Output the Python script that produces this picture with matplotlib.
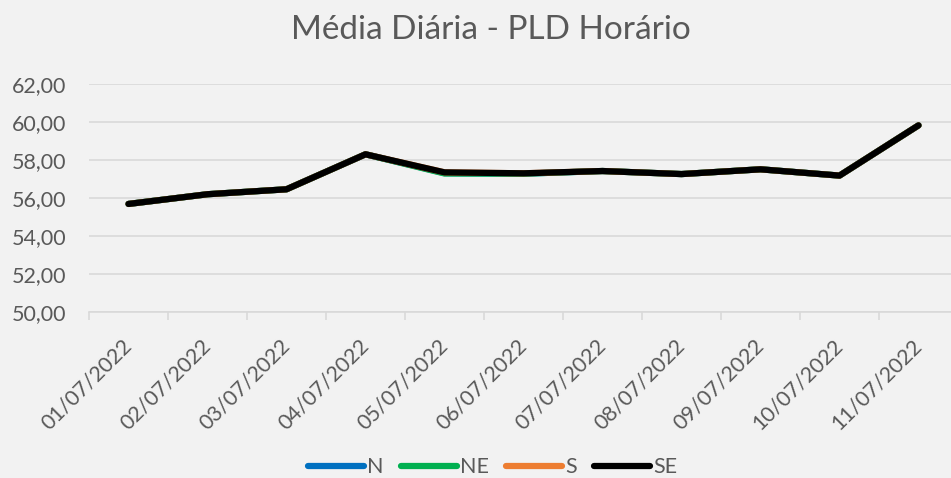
import matplotlib.pyplot as plt
import matplotlib.transforms as mtransforms
import numpy as np

# Data
dates = ['01/07/2022', '02/07/2022', '03/07/2022', '04/07/2022', '05/07/2022', '06/07/2022',
         '07/07/2022', '08/07/2022', '09/07/2022', '10/07/2022', '11/07/2022']
pld_n = [55.68, 56.19, 56.45, 58.29, 57.30, 57.27, 57.41, 57.25, 57.50, 57.17, 59.81]
pld_ne = [55.68, 56.19, 56.45, 58.29, 57.28, 57.27, 57.41, 57.25, 57.50, 57.17, 59.81]
pld_s = [55.68, 56.19, 56.45, 58.29, 57.34, 57.29, 57.41, 57.25, 57.50, 57.17, 59.81]
pld_se = [55.68, 56.19, 56.45, 58.29, 57.34, 57.29, 57.41, 57.25, 57.50, 57.17, 59.81]
yticks = [50, 52, 54, 56, 58, 60, 62]

plt.rcParams['font.family'] = ['Lato', 'DejaVu Sans']
txt = '#595959'
grid = '#d9d9d9'
bg = '#f2f2f2'
fs = 15.5

fig = plt.figure(figsize=(9.51, 4.78), dpi=100, facecolor=bg)
ax = fig.add_axes([89 / 951, 166 / 478, 869 / 951, 228.3 / 478], facecolor=bg)

x = np.arange(len(dates))
ax.plot(x, pld_n, color='#0070c0', lw=4.5, label='N', solid_capstyle='round')
ax.plot(x, pld_ne, color='#00b050', lw=4.5, label='NE', solid_capstyle='round')
ax.plot(x, pld_s, color='#ed7d31', lw=4.5, label='S', solid_capstyle='round')
ax.plot(x, pld_se, color='black', lw=4.5, label='SE', solid_capstyle='round')

ax.set_xlim(-0.5, len(dates) - 0.5)
ax.set_ylim(50, 62)
ax.set_yticks(yticks)
ax.set_yticklabels([f'{v:.2f}'.replace('.', ',') for v in yticks], color=txt, fontsize=fs)
ax.yaxis.grid(True, color=grid, lw=1.2)
ax.set_axisbelow(True)
ax.tick_params(axis='y', length=0, pad=16.5)

ax.set_xticks(x)
ax.set_xticklabels(dates, rotation=45, ha='right', rotation_mode='anchor', color=txt, fontsize=fs)
ax.set_xticks(np.arange(-0.5, len(dates), 1), minor=True)
ax.tick_params(axis='x', which='major', length=0, pad=17)
ax.tick_params(axis='x', which='minor', length=6, color=grid, width=1.2)
shift = mtransforms.ScaledTranslation(-7 / 100, 0, fig.dpi_scale_trans)
for lbl in ax.get_xticklabels():
    lbl.set_transform(lbl.get_transform() + shift)

for s in ['top', 'right', 'left']:
    ax.spines[s].set_visible(False)
ax.spines['bottom'].set_color(grid)
ax.spines['bottom'].set_linewidth(1.2)

fig.text(0.516, 0.937, 'Média Diária - PLD Horário', ha='center', va='center', fontsize=24, color=txt)

fig.legend(loc='center', bbox_to_anchor=(0.518, 0.022), ncol=4, frameon=False, fontsize=fs,
           handlelength=2.6, handletextpad=0.15, columnspacing=0.8, labelcolor=txt)

fig.savefig('out.png', dpi=100, facecolor=bg)
